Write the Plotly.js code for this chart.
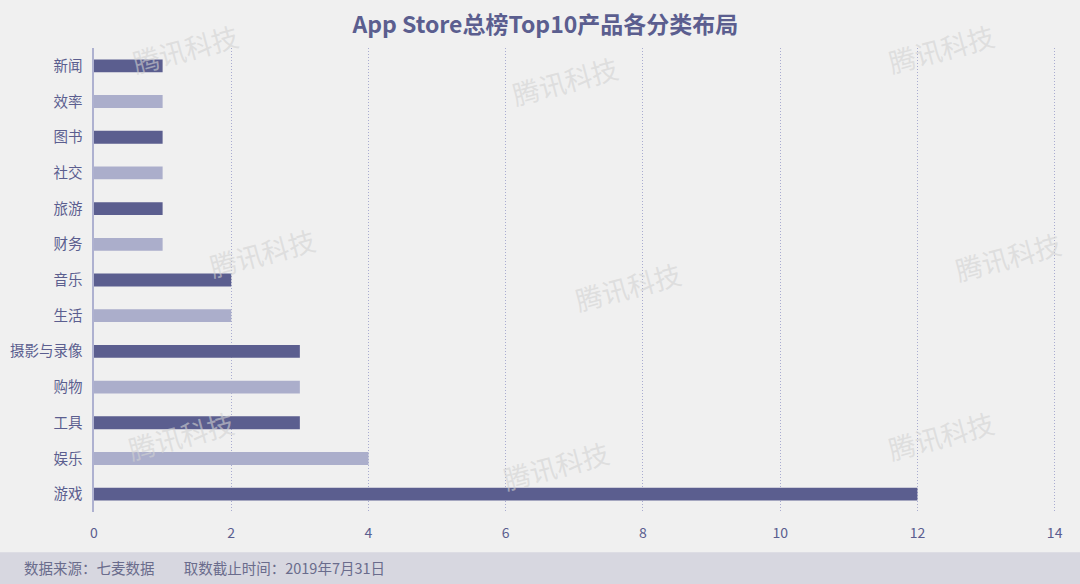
<!DOCTYPE html>
<html>
<head>
<meta charset="utf-8">
<script src="https://cdn.plot.ly/plotly-3.0.1.min.js"></script>
<style>
  body { margin: 0; background: #f0f0f0; }
  #chart { width: 1080px; height: 584px; }
</style>
</head>
<body>
<div id="chart"></div>
<script>
// Categories from bottom to top
var categories = ["游戏", "娱乐", "工具", "购物", "摄影与录像", "生活", "音乐", "财务", "旅游", "社交", "图书", "效率", "新闻"];
var counts = [12, 4, 3, 3, 3, 2, 2, 1, 1, 1, 1, 1, 1];

var darkColor = "#5b5e8f";
var lightColor = "#abaecb";
var barColors = categories.map(function (c, i) { return i % 2 === 0 ? darkColor : lightColor; });

// watermark spots (paper coords)
var markX = [0.095, 0.49, 0.88, 0.175, 0.555, 0.95, 0.09, 0.48, 0.88];
var markY = [1.0, 0.93, 1.0, 0.56, 0.485, 0.55, 0.165, 0.1, 0.165];

var data = [{
  type: "bar",
  orientation: "h",
  x: counts,
  y: categories,
  width: 0.36,
  marker: { color: barColors },
  hoverinfo: "x+y"
}];

var annotations = markX.map(function (mx, i) {
  return {
    xref: "paper", yref: "paper",
    x: mx, y: markY[i],
    xanchor: "center", yanchor: "middle",
    text: "腾讯科技",
    showarrow: false,
    textangle: -15,
    font: { family: "Noto Sans CJK SC", size: 27, color: "rgba(210,210,210,0.6)" }
  };
});

annotations.push({
  xref: "paper", yref: "paper",
  x: -0.075, y: -0.12,
  xanchor: "left", yanchor: "middle",
  text: "数据来源：七麦数据&nbsp;&nbsp;&nbsp;&nbsp;&nbsp;&nbsp;&nbsp;&nbsp;&nbsp;取数截止时间：2019年7月31日",
  showarrow: false,
  font: { family: "Noto Sans CJK SC", size: 14.5, color: "#6a6c8c" }
});

var layout = {
  width: 1080,
  height: 584,
  margin: { l: 94, r: 24, t: 48, b: 72 },
  paper_bgcolor: "#f0f0f0",
  plot_bgcolor: "#f0f0f0",
  font: { family: "Noto Sans CJK SC", color: "#5b5e8f" },
  title: {
    text: "<b>App Store总榜Top10产品各分类布局</b>",
    x: 0.505, y: 0.957,
    xanchor: "center", yanchor: "middle",
    font: { family: "Noto Sans CJK SC", size: 23, color: "#5b5e8f" }
  },
  xaxis: {
    range: [0, 14.02],
    tickvals: [0, 2, 4, 6, 8, 10, 12, 14],
    showgrid: true,
    gridcolor: "#a9acd0",
    griddash: "1px,2px",
    gridwidth: 1,
    zeroline: false,
    showline: false,
    tickfont: { size: 14, color: "#5b5e8f" },
    ticklabelstandoff: 11,
    ticks: ""
  },
  yaxis: {
    type: "category",
    showgrid: false,
    zeroline: false,
    showline: true,
    linecolor: "#aeb1d0",
    linewidth: 2,
    ticks: "",
    ticksuffix: "  ",
    tickfont: { size: 14.5, color: "#5b5e8f" }
  },
  shapes: [{
    type: "rect",
    xref: "paper", yref: "paper",
    x0: -0.1, x1: 1.05, y0: -0.155, y1: -0.087,
    fillcolor: "#d7d7e0",
    line: { width: 0 },
    layer: "below"
  }],
  annotations: annotations,
  showlegend: false,
  bargap: 0.6
};

Plotly.newPlot("chart", data, layout, { displayModeBar: false });
</script>
</body>
</html>
